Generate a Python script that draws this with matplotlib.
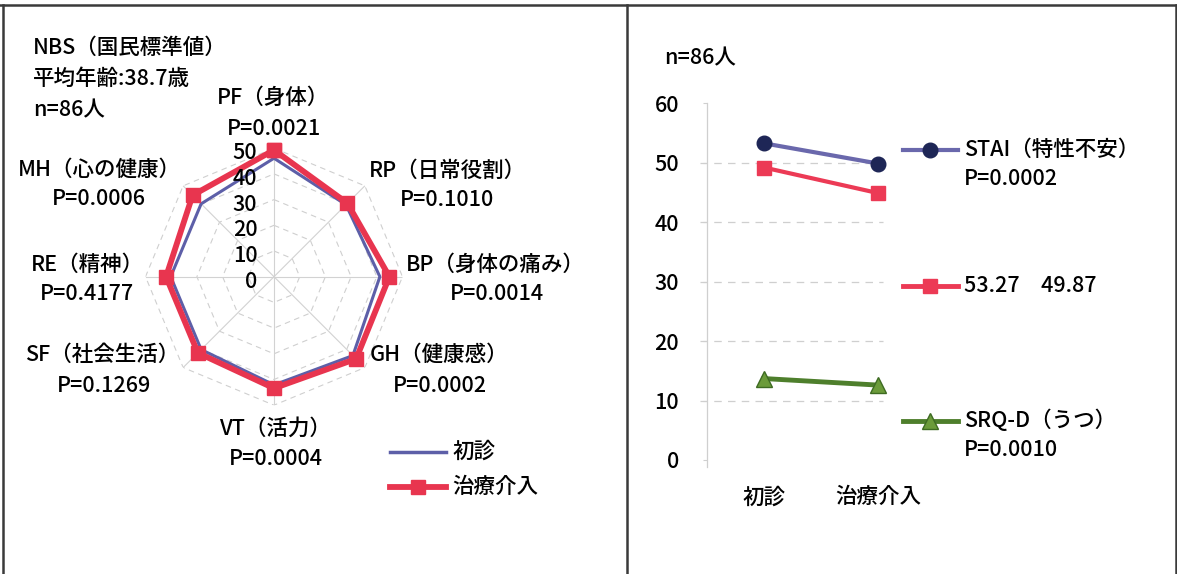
import numpy as np
import matplotlib
matplotlib.use("Agg")
import matplotlib.pyplot as plt
from matplotlib.lines import Line2D

plt.rcParams['font.family'] = ['Noto Sans CJK JP', 'DejaVu Sans']
plt.rcParams['font.weight'] = 'medium'

# ---------------- data ----------------
radar_cats = ["PF（身体）", "RP（日常役割）", "BP（身体の痛み）", "GH（健康感）",
              "VT（活力）", "SF（社会生活）", "RE（精神）", "MH（心の健康）"]
radar_p = ["P=0.0021", "P=0.1010", "P=0.0014", "P=0.0002",
           "P=0.0004", "P=0.1269", "P=0.4177", "P=0.0006"]
radar_first = [46.1, 39.6, 41.2, 43.4, 42.1, 40.1, 40.2, 40.1]      # 初診
radar_treat = [49.3, 40.4, 44.9, 45.2, 43.4, 41.9, 42.0, 44.8]      # 治療介入
radar_series = ["初診", "治療介入"]
radar_ticks = [0, 10, 20, 30, 40, 50]
radar_note = ["NBS（国民標準値）", "平均年齢:38.7歳", "n=86人"]

line_x = ["初診", "治療介入"]
stai = [53.27, 49.87]
red_series = [49.2, 44.9]
srqd = [13.7, 12.6]
line_labels = [["STAI（特性不安）", "P=0.0002"], ["53.27\u300049.87"], ["SRQ-D（うつ）", "P=0.0010"]]
line_ticks = [0, 10, 20, 30, 40, 50, 60]
line_note = "n=86人"

W, H = 1177, 574
fig = plt.figure(figsize=(W / 100, H / 100), dpi=100)
fig.patch.set_facecolor('white')

def fx(x):
    return x / W

def fy(y):
    return 1 - y / H

FS = 15.5
BLUE_R = '#5D5FA8'
RED = '#E8354F'

# ---------------- frame ----------------
for (x0, y0, x1, y1) in [(0, 5, W, 5), (2.5, 5, 2.5, H), (627, 5, 627, H), (1175.5, 5, 1175.5, H)]:
    fig.add_artist(Line2D([fx(x0), fx(x1)], [fy(y0), fy(y1)], color='#3a3a3a', lw=1.8,
                          transform=fig.transFigure))

# ---------------- radar ----------------
cx, cy, r50 = 274, 276.7, 128.5
axr = fig.add_axes([fx(cx - r50), fy(cy + r50), 2 * r50 / W, 2 * r50 / H], projection='polar')
axr.set_theta_zero_location('N')
axr.set_theta_direction(-1)
axr.set_ylim(0, 50)
axr.grid(False)
axr.set_xticks([])
axr.set_yticks([])
axr.spines['polar'].set_visible(False)
axr.patch.set_alpha(0)

n = len(radar_cats)
theta = np.arange(n) * 2 * np.pi / n
theta_c = np.append(theta, theta[0])
for v in radar_ticks[1:]:
    axr.plot(theta_c, [v] * (n + 1), color='#CFCFCF', lw=0.8, ls=(0, (5, 4)), zorder=1)
for t in theta:
    axr.plot([t, t], [0, 50], color='#D2D2D2', lw=0.8, zorder=1)
for v in radar_ticks:
    axr.annotate(str(v), xy=(0, v), xytext=(-12, -3.6), textcoords='offset points',
                 ha='right', va='center', fontsize=FS, zorder=5)

axr.plot(theta_c, radar_first + radar_first[:1], color=BLUE_R, lw=2.2, zorder=3)
axr.plot(theta_c, radar_treat + radar_treat[:1], color=RED, lw=4.2, marker='s', ms=10,
         zorder=4, clip_on=False)

cat_pos = [(273, 98, 274, 129), (447, 171, 447, 200), (495, 265, 497, 294), (439, 355, 440, 386),
           (275, 429, 276, 459), (102, 355, 104, 386), (87, 265, 87, 294), (99, 170, 99, 199)]
for (c, p, (x1, y1, x2, y2)) in zip(radar_cats, radar_p, cat_pos):
    fig.text(fx(x1), fy(y1), c, ha='center', va='center', fontsize=FS)
    fig.text(fx(x2), fy(y2), p, ha='center', va='center', fontsize=FS)

for i, s in enumerate(radar_note):
    fig.text(fx(33), fy(48 + 31 * i), s, ha='left', va='center', fontsize=FS)

# radar legend
fig.add_artist(Line2D([fx(390), fx(446)], [fy(452), fy(452)], color=BLUE_R, lw=2.5,
                      transform=fig.transFigure))
fig.add_artist(Line2D([fx(390), fx(446)], [fy(487), fy(487)], color=RED, lw=4.2,
                      transform=fig.transFigure))
fig.add_artist(Line2D([fx(418)], [fy(487)], color=RED, marker='s', ms=10, lw=0,
                      transform=fig.transFigure))
fig.text(fx(452), fy(452), radar_series[0], ha='left', va='center', fontsize=FS)
fig.text(fx(452), fy(487), radar_series[1], ha='left', va='center', fontsize=FS)

# ---------------- line chart ----------------
y0px, y60px = 460, 103.3
axl = fig.add_axes([fx(707), fy(y0px), 228 / W, (y0px - y60px) / H])
axl.set_xlim(-0.5, 1.5)
axl.set_ylim(0, 60)
for sp in ['top', 'right', 'bottom']:
    axl.spines[sp].set_visible(False)
axl.spines['left'].set_color('#CFCFCF')
axl.spines['left'].set_linewidth(0.9)
axl.spines['left'].set_bounds(-1.2, 60)
axl.set_yticks(line_ticks)
axl.set_yticklabels([str(t) for t in line_ticks], fontsize=FS)
axl.tick_params(axis='y', direction='out', length=3, color='#CFCFCF', pad=17)
axl.set_xticks([0, 1])
axl.set_xticklabels(line_x, fontsize=FS)
axl.tick_params(axis='x', length=0, pad=19)
axl.patch.set_alpha(0)
gl = axl.get_yaxis_transform()
for t in line_ticks[1:-1]:
    axl.plot([-0.03, 0.77], [t, t], transform=gl, color='#CFCFCF', lw=0.9, ls=(0, (6, 5)),
             clip_on=False, zorder=1)

xs = np.arange(len(line_x))
C_STAI_L, C_STAI_M = '#6A68AC', '#1E2656'
C_RED = '#EC3A55'
C_GRN_L, C_GRN_M, C_GRN_E = '#4E7F2C', '#6B9B3A', '#3E6B22'
axl.plot(xs, stai, color=C_STAI_L, lw=3, marker='o', ms=10.5, mfc=C_STAI_M, mec=C_STAI_M,
         zorder=3, clip_on=False)
axl.plot(xs, red_series, color=C_RED, lw=3, marker='s', ms=10, mfc=C_RED, mec=C_RED,
         zorder=3, clip_on=False)
axl.plot(xs, srqd, color=C_GRN_L, lw=3.5, marker='^', ms=11, mfc=C_GRN_M, mec=C_GRN_E,
         zorder=3, clip_on=False)

fig.text(fx(664), fy(58), line_note, ha='left', va='center', fontsize=FS)

leg_styles = [dict(color=C_STAI_L, lw=3, marker='o', mfc=C_STAI_M, mec=C_STAI_M, ms=10.5),
              dict(color=C_RED, lw=3.5, marker='s', mfc=C_RED, mec=C_RED, ms=10),
              dict(color=C_GRN_L, lw=3.5, marker='^', mfc=C_GRN_M, mec=C_GRN_E, ms=11)]
leg_y = [150, 286, 421]
for sty, ly, labs in zip(leg_styles, leg_y, line_labels):
    st = dict(sty)
    mk = dict(marker=st.pop('marker'), mfc=st.pop('mfc'), mec=st.pop('mec'), ms=st.pop('ms'))
    fig.add_artist(Line2D([fx(903), fx(958)], [fy(ly), fy(ly)], transform=fig.transFigure, **st))
    fig.add_artist(Line2D([fx(930)], [fy(ly)], lw=0, transform=fig.transFigure, **mk))
    for j, lab in enumerate(labs):
        fig.text(fx(964), fy(ly + 28.5 * j), lab, ha='left', va='center', fontsize=FS)

fig.savefig('out.png', dpi=100, facecolor='white')
